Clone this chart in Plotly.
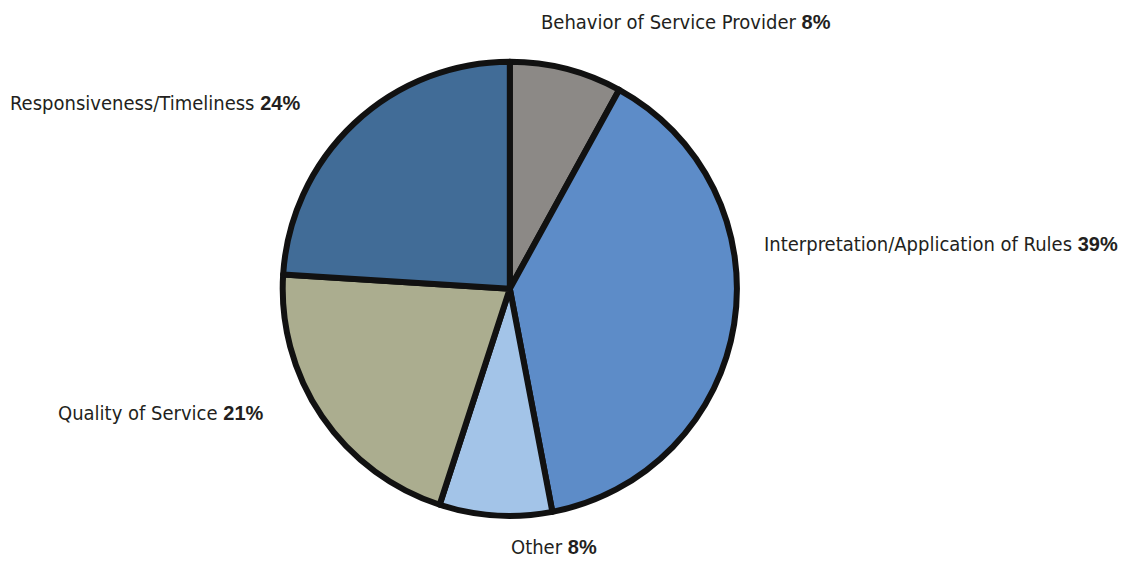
import plotly.graph_objects as go

categories = ["Behavior of Service Provider", "Interpretation/Application of Rules",
              "Other", "Quality of Service", "Responsiveness/Timeliness"]
shares = [8, 39, 8, 21, 24]
colors = ["#8c8986", "#5d8cc8", "#a3c4e8", "#abad8f", "#416c97"]

# label anchor points (paper coords), one per category
label_x = [0.463, 0.657, 0.437, 0.042, 0.000]
label_y = [0.976, 0.599, 0.084, 0.311, 0.838]

fig = go.Figure()
fig.add_trace(go.Pie(
    labels=categories,
    values=shares,
    sort=False,
    direction="clockwise",
    rotation=0,
    textinfo="none",
    hoverinfo="label+percent",
    marker=dict(colors=colors, line=dict(color="#111111", width=6)),
    domain=dict(x=[0.2395, 0.6355], y=[0.1320, 0.9130]),
    showlegend=False,
))

for name, pct, x, y in zip(categories, shares, label_x, label_y):
    fig.add_annotation(
        x=x, y=y, xref="paper", yref="paper",
        xanchor="left", yanchor="middle", showarrow=False,
        text=f"{name} <b><span style='font-family:Liberation Sans'>{pct}%</span></b>",
        font=dict(family="DejaVu Sans Condensed, Roboto, sans-serif", size=20, color="#231f20"),
    )

fig.update_layout(
    width=1147, height=588,
    margin=dict(l=0, r=0, t=0, b=0),
    paper_bgcolor="white",
    plot_bgcolor="white",
)

fig.write_html("out.html")
